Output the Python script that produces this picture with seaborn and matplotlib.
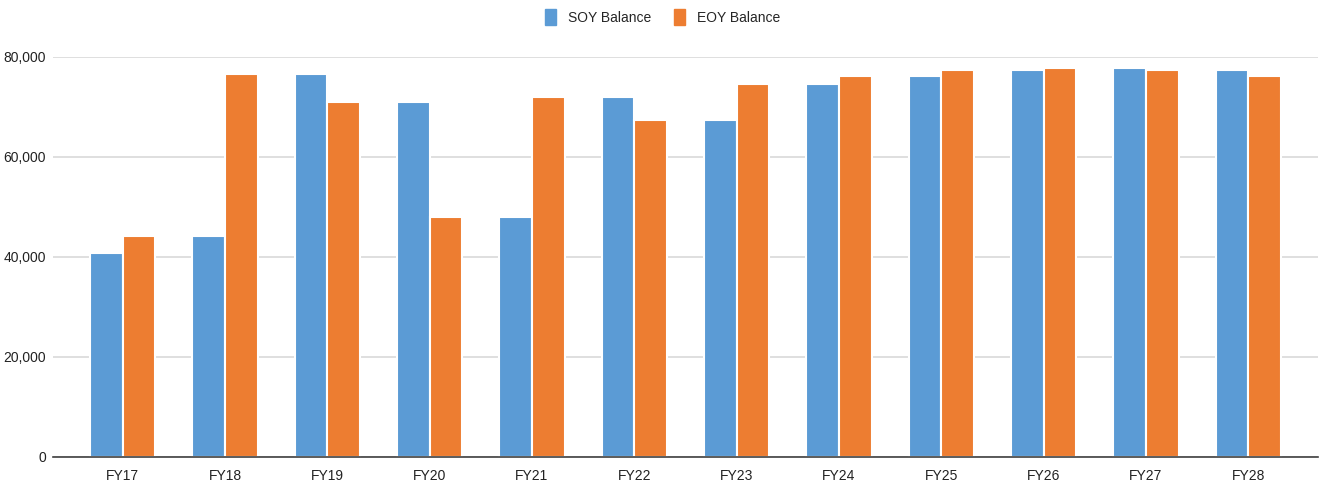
import matplotlib
matplotlib.use("Agg")
import matplotlib.pyplot as plt
import matplotlib.patches as mpatches
from matplotlib.ticker import FuncFormatter
import seaborn as sns
import pandas as pd

# Fiscal-year balances
years = ["FY17", "FY18", "FY19", "FY20", "FY21", "FY22",
         "FY23", "FY24", "FY25", "FY26", "FY27", "FY28"]
soy_balance = [40800, 44300, 76600, 71100, 48000, 72000,
               67400, 74600, 76300, 77500, 77800, 77500]
eoy_balance = [44300, 76600, 71100, 48000, 72000, 67400,
               74600, 76300, 77500, 77800, 77500, 76300]
series_names = ["SOY Balance", "EOY Balance"]
y_ticks = [0, 20000, 40000, 60000, 80000]

colors = {"SOY Balance": "#5B9BD5", "EOY Balance": "#ED7D31"}

df = pd.DataFrame({
    "Year": years * 2,
    "Balance": soy_balance + eoy_balance,
    "Series": [series_names[0]] * len(years) + [series_names[1]] * len(years),
})

sns.set_theme(style="white")
plt.rcParams["font.family"] = ["Liberation Sans", "DejaVu Sans"]

fig = plt.figure(figsize=(13.25, 4.91), dpi=100)
ax = fig.add_axes([53 / 1325, 1 - 457 / 491, (1318 - 53) / 1325, (457 - 57) / 491])

sns.barplot(data=df, x="Year", y="Balance", hue="Series", order=years,
            hue_order=series_names, palette=colors, width=0.64,
            edgecolor="white", linewidth=1.5, saturation=1, ax=ax,
            legend=False)

ax.set_xlim(-0.68, 11.68)
ax.set_ylim(0, 80000)
ax.set_yticks(y_ticks)
ax.yaxis.set_major_formatter(FuncFormatter(lambda v, p: f"{int(v):,}"))
ax.yaxis.grid(True, color="#d9d9d9", linewidth=1.2)
ax.set_axisbelow(True)
ax.set_xlabel("")
ax.set_ylabel("")
for side in ["left", "right", "top"]:
    ax.spines[side].set_visible(False)
ax.spines["bottom"].set_color("#404040")
ax.spines["bottom"].set_linewidth(1.2)
ax.tick_params(axis="both", length=0, labelsize=10, colors="#222222")
ax.tick_params(axis="x", pad=9)
ax.tick_params(axis="y", pad=5)

handles = [mpatches.Patch(color=colors[n], label=n) for n in series_names]
fig.legend(handles=handles, loc="center", bbox_to_anchor=(0.5, 1 - 17 / 491),
           ncol=2, frameon=False, fontsize=10, handlelength=0.8,
           handleheight=1.3, handletextpad=0.9, columnspacing=1.6)

fig.savefig("out.png", dpi=100)
